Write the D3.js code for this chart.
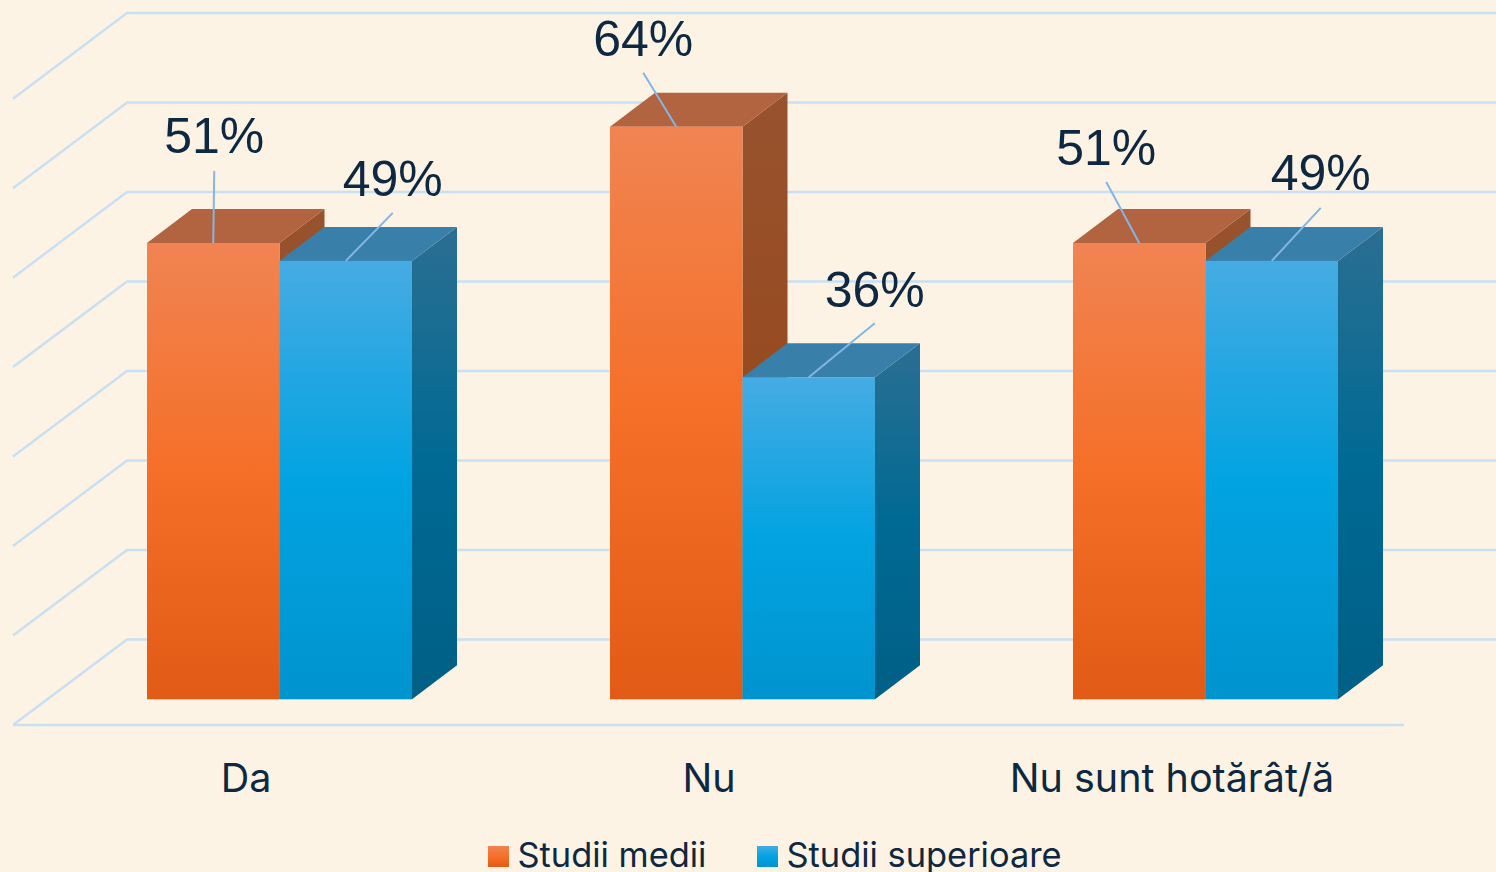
<!DOCTYPE html>
<html>
<head>
<meta charset="utf-8">
<script src="https://cdn.jsdelivr.net/npm/d3@7"></script>
<style>
html, body { margin: 0; padding: 0; background: #fdf3e4; overflow: hidden; }
svg { display: block; }
text { font-family: Inter, sans-serif; fill: #0e2841; }
</style>
</head>
<body>
<div id="chart"></div>
<script>
const categories = ["Da", "Nu", "Nu sunt hotărât/ă"];
const seriesNames = ["Studii medii", "Studii superioare"];
const studiiMedii = [51, 64, 51];
const studiiSuperioare = [49, 36, 49];
const gridValues = [0, 10, 20, 30, 40, 50, 60, 70];

const width = 1496;
const height = 872;

// 3d offsets: floor goes back further than the bars do
const floorDepth = { x: 114, y: -85.6 };
const barDepth = { x: 45, y: -34 };

// bar sits this far inside the floor
const barInset = { x: 33.5, y: -25.7 };

// hand placed data labels, relative to the top centre of the bar front
const labelOffsets = [
    [{ tx: 1, ty: -90, lx: 1, ly: -72 }, { tx: 47, ty: -65, lx: 47, ly: -48 }],
    [{ tx: -33, ty: -71, lx: -33, ly: -54 }, { tx: 66, ty: -70, lx: 66, ly: -54 }],
    [{ tx: -33, ty: -78, lx: -33, ly: -61 }, { tx: 49, ty: -71, lx: 49, ly: -53 }]
];

const seriesValues = [studiiMedii, studiiSuperioare];

const palette = [
    {
        front: ["#f08452", "#f56f28", "#e25b16"],
        side: ["#97532f", "#974a1f", "#8a4413"],
        top: "#b2633f"
    },
    {
        front: ["#46abe3", "#02a3e1", "#0094cf"],
        side: ["#2c6e92", "#006a94", "#005f85"],
        top: "#3880aa"
    }
];

const svg = d3.select("#chart")
    .append("svg")
    .attr("width", width)
    .attr("height", height);

const defs = svg.append("defs");

function addGradient(id, stops) {
    const g = defs.append("linearGradient")
        .attr("id", id)
        .attr("x1", 0).attr("y1", 0)
        .attr("x2", 0).attr("y2", 1);
    g.selectAll("stop")
        .data(stops)
        .join("stop")
        .attr("offset", (d, i) => i / (stops.length - 1))
        .attr("stop-color", d => d);
}

palette.forEach((p, i) => {
    addGradient(`front-${i}`, p.front);
    addGradient(`side-${i}`, p.side);
});

const floorLeft = 13;
const floorRight = 1404;

const x = d3.scaleBand()
    .domain(categories)
    .range([14.5, 1403.5]);

const xInner = d3.scaleBand()
    .domain(seriesNames)
    .range([x.bandwidth() / 2 - 132.5, x.bandwidth() / 2 + 132.5]);

const y = d3.scaleLinear()
    .domain([0, 70])
    .range([725, 98.7]);

const line = d3.line();

// grid, side wall and floor
const grid = svg.append("g")
    .attr("fill", "none")
    .attr("stroke", "#c9dff2")
    .attr("stroke-width", 2.5);

grid.selectAll("path")
    .data(gridValues)
    .join("path")
    .attr("d", d => line([
        [floorLeft, y(d)],
        [floorLeft + floorDepth.x, y(d) + floorDepth.y],
        [floorRight + floorDepth.x, y(d) + floorDepth.y]
    ]));

grid.append("path")
    .attr("d", line([[floorLeft, y(0)], [floorRight, y(0)]]));

const bars = svg.append("g");

// orange first so the blue one covers its side
seriesNames.forEach((name, s) => {
    categories.forEach((cat, c) => {
        const value = seriesValues[s][c];
        const x0 = x(cat) + xInner(name) + barInset.x;
        const x1 = x0 + xInner.bandwidth();
        const y0 = y(0) + barInset.y;
        const y1 = y(value) + barInset.y;
        const g = bars.append("g");

        g.append("path")
            .attr("fill", `url(#side-${s})`)
            .attr("d", line([
                [x1, y1],
                [x1 + barDepth.x, y1 + barDepth.y],
                [x1 + barDepth.x, y0 + barDepth.y],
                [x1, y0]
            ]) + "Z");

        g.append("path")
            .attr("fill", palette[s].top)
            .attr("d", line([
                [x0, y1],
                [x0 + barDepth.x, y1 + barDepth.y],
                [x1 + barDepth.x, y1 + barDepth.y],
                [x1, y1]
            ]) + "Z");

        g.append("rect")
            .attr("x", x0)
            .attr("y", y1)
            .attr("width", x1 - x0)
            .attr("height", y0 - y1)
            .attr("fill", `url(#front-${s})`);
    });
});

// labels and leader lines go on top of everything
const labels = svg.append("g");

seriesNames.forEach((name, s) => {
    categories.forEach((cat, c) => {
        const value = seriesValues[s][c];
        const off = labelOffsets[c][s];
        const cx = x(cat) + xInner(name) + barInset.x + xInner.bandwidth() / 2;
        const cy = y(value) + barInset.y;

        labels.append("path")
            .attr("fill", "none")
            .attr("stroke", "#83b5e5")
            .attr("stroke-width", 2)
            .attr("d", line([[cx, cy], [cx + off.lx, cy + off.ly]]));

        labels.append("text")
            .attr("x", cx + off.tx)
            .attr("y", cy + off.ty)
            .attr("text-anchor", "middle")
            .style("font-family", "'Liberation Sans', Arial, sans-serif")
            .style("font-size", "50px")
            .text(`${value}%`);
    });
});

// category labels
const axis = svg.append("g")
    .attr("transform", `translate(0,${y(0)})`)
    .call(d3.axisBottom(x).tickSize(0).tickPadding(38.5));

axis.select(".domain").remove();
axis.selectAll("text")
    .style("font-family", "Inter, sans-serif")
    .style("font-size", "39.5px")
    .attr("fill", "#0e2841");

// legend
const legendX = d3.scaleOrdinal()
    .domain(seriesNames)
    .range([488, 757]);

const legend = svg.append("g")
    .selectAll("g")
    .data(seriesNames)
    .join("g")
    .attr("transform", d => `translate(${legendX(d)},846)`);

legend.append("rect")
    .attr("width", 21)
    .attr("height", 21)
    .attr("fill", (d, i) => `url(#front-${i})`);

legend.append("text")
    .attr("x", 29.5)
    .attr("y", 21)
    .style("font-size", "34.4px")
    .text(d => d);
</script>
</body>
</html>
